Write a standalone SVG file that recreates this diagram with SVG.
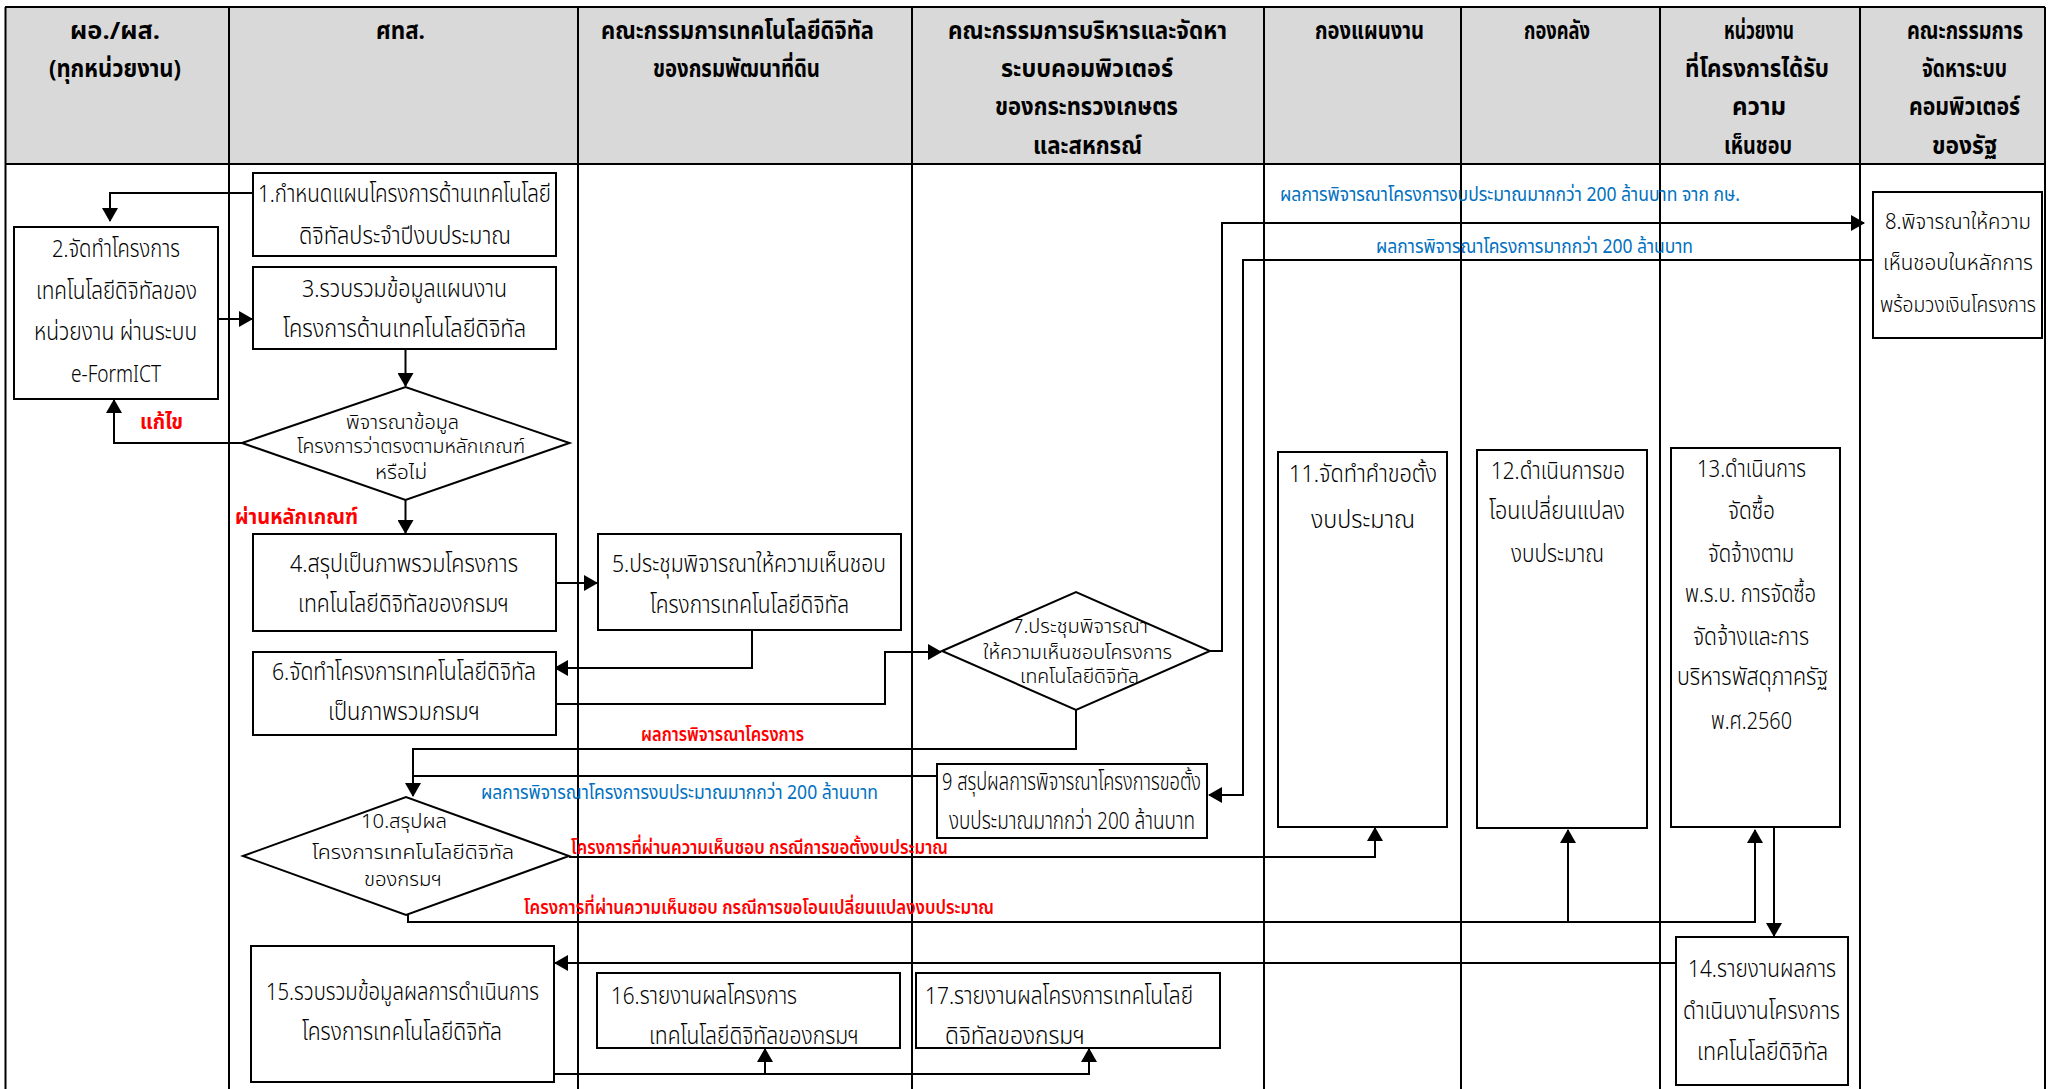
<svg xmlns="http://www.w3.org/2000/svg" width="2048" height="1089" viewBox="0 0 2048 1089">
<defs>
<marker id="ah" markerUnits="userSpaceOnUse" markerWidth="14" markerHeight="16" refX="13" refY="8" orient="auto">
<path d="M0,0 L14,8 L0,16 Z" fill="#000"/>
</marker>
</defs>
<style>
.lane{stroke:#000;stroke-width:2;fill:none}
.box{fill:#fff;stroke:#000;stroke-width:2}
.ln{stroke:#000;stroke-width:2;fill:none}
.arw{stroke:#000;stroke-width:2;fill:none;marker-end:url(#ah)}
text{font-family:"Noto Sans Thai","Noto Sans Thai Looped","Noto Sans","DejaVu Sans",sans-serif;fill:#000;font-stretch:condensed}
.h{font-size:24px;font-weight:bold}
.t{font-size:24px;font-weight:300}
.t8{font-size:22px;font-weight:300;text-anchor:middle}
.d{font-size:20px;font-weight:300}
.lb{font-size:19px;fill:#0070c0}
.lr{font-size:19px;fill:#ff0000;font-weight:600}
.lrb{font-size:21px;fill:#ff0000;font-weight:bold}
</style>
<rect x="0" y="0" width="2048" height="1089" fill="#fff"/>
<g id="lanes">
<rect x="5" y="7" width="2040" height="157" fill="#d9d9d9"/>
<line class="lane" x1="5" y1="7" x2="2045" y2="7"/>
<line class="lane" x1="5" y1="164" x2="2045" y2="164" stroke-width="3"/>
<line class="lane" x1="5.5" y1="7" x2="5.5" y2="1089"/>
<line class="lane" x1="229" y1="7" x2="229" y2="1089"/>
<line class="lane" x1="578" y1="7" x2="578" y2="1089"/>
<line class="lane" x1="912" y1="7" x2="912" y2="1089"/>
<line class="lane" x1="1264" y1="7" x2="1264" y2="1089"/>
<line class="lane" x1="1461" y1="7" x2="1461" y2="1089"/>
<line class="lane" x1="1660" y1="7" x2="1660" y2="1089"/>
<line class="lane" x1="1860" y1="7" x2="1860" y2="1089"/>
<line class="lane" x1="2045" y1="7" x2="2045" y2="1089"/>
<g class="h">
<text x="70" y="39" textLength="90" lengthAdjust="spacingAndGlyphs">ผอ./ผส.</text>
<text x="49" y="77" textLength="132" lengthAdjust="spacingAndGlyphs">(ทุกหน่วยงาน)</text>
<text x="376" y="39" textLength="49" lengthAdjust="spacingAndGlyphs">ศทส.</text>
<text x="601" y="39" textLength="273" lengthAdjust="spacingAndGlyphs">คณะกรรมการเทคโนโลยีดิจิทัล</text>
<text x="653" y="77" textLength="167" lengthAdjust="spacingAndGlyphs">ของกรมพัฒนาที่ดิน</text>
<text x="948" y="39" textLength="279" lengthAdjust="spacingAndGlyphs">คณะกรรมการบริหารและจัดหา</text>
<text x="1001" y="77" textLength="172" lengthAdjust="spacingAndGlyphs">ระบบคอมพิวเตอร์</text>
<text x="995" y="115" textLength="183" lengthAdjust="spacingAndGlyphs">ของกระทรวงเกษตร</text>
<text x="1033" y="154" textLength="109" lengthAdjust="spacingAndGlyphs">และสหกรณ์</text>
<text x="1315" y="39" textLength="109" lengthAdjust="spacingAndGlyphs">กองแผนงาน</text>
<text x="1524" y="39" textLength="66" lengthAdjust="spacingAndGlyphs">กองคลัง</text>
<text x="1724" y="39" textLength="70" lengthAdjust="spacingAndGlyphs">หน่วยงาน</text>
<text x="1685" y="77" textLength="144" lengthAdjust="spacingAndGlyphs">ที่โครงการได้รับ</text>
<text x="1732" y="115" textLength="54" lengthAdjust="spacingAndGlyphs">ความ</text>
<text x="1724" y="154" textLength="68" lengthAdjust="spacingAndGlyphs">เห็นชอบ</text>
<text x="1907" y="39" textLength="116" lengthAdjust="spacingAndGlyphs">คณะกรรมการ</text>
<text x="1922" y="77" textLength="85" lengthAdjust="spacingAndGlyphs">จัดหาระบบ</text>
<text x="1909" y="115" textLength="111" lengthAdjust="spacingAndGlyphs">คอมพิวเตอร์</text>
<text x="1932" y="154" textLength="65" lengthAdjust="spacingAndGlyphs">ของรัฐ</text>
</g>
</g>
<g id="connectors">
<path class="arw" d="M253,193 H110 V221"/>
<path class="arw" d="M218,319 H252"/>
<path class="arw" d="M405.5,349 V386"/>
<path class="arw" d="M242,443 H114 V400"/>
<path class="arw" d="M405.5,500 V533"/>
<path class="arw" d="M557,583 H597"/>
<path class="arw" d="M752,630 V668 H555"/>
<path class="arw" d="M557,704 H885 V652 H941"/>
<path class="arw" d="M1210,651 H1222 V223 H1864"/>
<path class="arw" d="M1873,260 H1243 V795 H1209"/>
<path class="arw" d="M1076,710 V749 H413 V796"/>
<path class="ln" d="M937,776 H413"/>
<path class="arw" d="M569,857 H1375 V828"/>
<path class="arw" d="M408,915 V922 H1568 V830"/>
<path class="arw" d="M1568,922 H1755 V830"/>
<path class="arw" d="M1774,827 V936"/>
<path class="arw" d="M1676,963 H555"/>
<path class="arw" d="M554,1074 H1089 V1049"/>
<path class="arw" d="M765,1074 V1049"/>
<text class="lb" x="1280" y="201" textLength="460" lengthAdjust="spacingAndGlyphs">ผลการพิจารณาโครงการงบประมาณมากกว่า 200 ล้านบาท จาก กษ.</text>
<text class="lb" x="1376" y="253" textLength="317" lengthAdjust="spacingAndGlyphs">ผลการพิจารณาโครงการมากกว่า 200 ล้านบาท</text>
<text class="lb" x="481" y="799" textLength="397" lengthAdjust="spacingAndGlyphs">ผลการพิจารณาโครงการงบประมาณมากกว่า 200 ล้านบาท</text>
<text class="lrb" x="140" y="429" textLength="43" lengthAdjust="spacingAndGlyphs">แก้ไข</text>
<text class="lrb" x="235" y="524" textLength="123" lengthAdjust="spacingAndGlyphs">ผ่านหลักเกณฑ์</text>
<text class="lr" x="641" y="741" textLength="163" lengthAdjust="spacingAndGlyphs">ผลการพิจารณาโครงการ</text>
<text class="lr" x="571" y="854" textLength="377" lengthAdjust="spacingAndGlyphs">โครงการที่ผ่านความเห็นชอบ กรณีการขอตั้งงบประมาณ</text>
<text class="lr" x="524" y="914" textLength="470" lengthAdjust="spacingAndGlyphs">โครงการที่ผ่านความเห็นชอบ กรณีการขอโอนเปลี่ยนแปลงงบประมาณ</text>
</g>
<g id="n1"><rect class="box" x="253" y="173" width="303" height="83"/>
<text class="t" x="258" y="202" textLength="293" lengthAdjust="spacingAndGlyphs">1.กำหนดแผนโครงการด้านเทคโนโลยี</text>
<text class="t" x="299" y="244" textLength="212" lengthAdjust="spacingAndGlyphs">ดิจิทัลประจำปีงบประมาณ</text></g>
<g id="n2"><rect class="box" x="14" y="227" width="204" height="172"/>
<text class="t" x="52" y="257" textLength="128" lengthAdjust="spacingAndGlyphs">2.จัดทำโครงการ</text>
<text class="t" x="36" y="299" textLength="161" lengthAdjust="spacingAndGlyphs">เทคโนโลยีดิจิทัลของ</text>
<text class="t" x="34" y="340" textLength="163" lengthAdjust="spacingAndGlyphs">หน่วยงาน ผ่านระบบ</text>
<text class="t" x="71" y="382" textLength="90" lengthAdjust="spacingAndGlyphs">e-FormICT</text></g>
<g id="n3"><rect class="box" x="253" y="267" width="303" height="82"/>
<text class="t" x="302" y="297" textLength="205" lengthAdjust="spacingAndGlyphs">3.รวบรวมข้อมูลแผนงาน</text>
<text class="t" x="283" y="337" textLength="243" lengthAdjust="spacingAndGlyphs">โครงการด้านเทคโนโลยีดิจิทัล</text></g>
<g id="d1"><polygon class="box" points="242,443 405.5,387 569.5,443 405.5,500"/>
<text class="d" x="346" y="429" textLength="113" lengthAdjust="spacingAndGlyphs">พิจารณาข้อมูล</text>
<text class="d" x="297" y="453" textLength="228" lengthAdjust="spacingAndGlyphs">โครงการว่าตรงตามหลักเกณฑ์</text>
<text class="d" x="375" y="479" textLength="52" lengthAdjust="spacingAndGlyphs">หรือไม่</text></g>
<g id="n4"><rect class="box" x="253" y="534" width="303" height="97"/>
<text class="t" x="290" y="572" textLength="228" lengthAdjust="spacingAndGlyphs">4.สรุปเป็นภาพรวมโครงการ</text>
<text class="t" x="298" y="612" textLength="211" lengthAdjust="spacingAndGlyphs">เทคโนโลยีดิจิทัลของกรมฯ</text></g>
<g id="n5"><rect class="box" x="598" y="534" width="303" height="96"/>
<text class="t" x="612" y="572" textLength="274" lengthAdjust="spacingAndGlyphs">5.ประชุมพิจารณาให้ความเห็นชอบ</text>
<text class="t" x="650" y="613" textLength="199" lengthAdjust="spacingAndGlyphs">โครงการเทคโนโลยีดิจิทัล</text></g>
<g id="n6"><rect class="box" x="253" y="652" width="303" height="83"/>
<text class="t" x="272" y="680" textLength="264" lengthAdjust="spacingAndGlyphs">6.จัดทำโครงการเทคโนโลยีดิจิทัล</text>
<text class="t" x="328" y="720" textLength="152" lengthAdjust="spacingAndGlyphs">เป็นภาพรวมกรมฯ</text></g>
<g id="d7"><polygon class="box" points="942,651 1076,592 1210,651 1076,710"/>
<text class="d" x="1012" y="633" textLength="136" lengthAdjust="spacingAndGlyphs">7.ประชุมพิจารณา</text>
<text class="d" x="983" y="659" textLength="189" lengthAdjust="spacingAndGlyphs">ให้ความเห็นชอบโครงการ</text>
<text class="d" x="1020" y="683" textLength="119" lengthAdjust="spacingAndGlyphs">เทคโนโลยีดิจิทัล</text></g>
<g id="n8"><rect class="box" x="1873" y="192" width="169" height="146"/>
<text class="t8" x="1958" y="229" textLength="146" lengthAdjust="spacingAndGlyphs">8.พิจารณาให้ความ</text>
<text class="t8" x="1958" y="270" textLength="150" lengthAdjust="spacingAndGlyphs">เห็นชอบในหลักการ</text>
<text class="t8" x="1958" y="312" textLength="156" lengthAdjust="spacingAndGlyphs">พร้อมวงเงินโครงการ</text></g>
<g id="n9"><rect class="box" x="937" y="764" width="270" height="74"/>
<text class="t" x="942" y="790" textLength="259" lengthAdjust="spacingAndGlyphs">9 สรุปผลการพิจารณาโครงการขอตั้ง</text>
<text class="t" x="949" y="829" textLength="246" lengthAdjust="spacingAndGlyphs">งบประมาณมากกว่า 200 ล้านบาท</text></g>
<g id="d10"><polygon class="box" points="243,856 406,797 569,856 406,915"/>
<text class="d" x="361" y="828" textLength="86" lengthAdjust="spacingAndGlyphs">10.สรุปผล</text>
<text class="d" x="312" y="859" textLength="202" lengthAdjust="spacingAndGlyphs">โครงการเทคโนโลยีดิจิทัล</text>
<text class="d" x="364" y="886" textLength="78" lengthAdjust="spacingAndGlyphs">ของกรมฯ</text></g>
<g id="n11"><rect class="box" x="1278" y="452" width="169" height="375"/>
<text class="t" x="1289" y="482" textLength="148" lengthAdjust="spacingAndGlyphs">11.จัดทำคำขอตั้ง</text>
<text class="t" x="1311" y="528" textLength="104" lengthAdjust="spacingAndGlyphs">งบประมาณ</text></g>
<g id="n12"><rect class="box" x="1477" y="450" width="170" height="378"/>
<text class="t" x="1491" y="479" textLength="134" lengthAdjust="spacingAndGlyphs">12.ดำเนินการขอ</text>
<text class="t" x="1489" y="519" textLength="136" lengthAdjust="spacingAndGlyphs">โอนเปลี่ยนแปลง</text>
<text class="t" x="1511" y="562" textLength="93" lengthAdjust="spacingAndGlyphs">งบประมาณ</text></g>
<g id="n13"><rect class="box" x="1671" y="448" width="169" height="379"/>
<text class="t" x="1697" y="477" textLength="109" lengthAdjust="spacingAndGlyphs">13.ดำเนินการ</text>
<text class="t" x="1728" y="519" textLength="47" lengthAdjust="spacingAndGlyphs">จัดซื้อ</text>
<text class="t" x="1708" y="562" textLength="86" lengthAdjust="spacingAndGlyphs">จัดจ้างตาม</text>
<text class="t" x="1685" y="602" textLength="131" lengthAdjust="spacingAndGlyphs">พ.ร.บ. การจัดซื้อ</text>
<text class="t" x="1693" y="645" textLength="116" lengthAdjust="spacingAndGlyphs">จัดจ้างและการ</text>
<text class="t" x="1677" y="685" textLength="151" lengthAdjust="spacingAndGlyphs">บริหารพัสดุภาครัฐ</text>
<text class="t" x="1711" y="729" textLength="81" lengthAdjust="spacingAndGlyphs">พ.ศ.2560</text></g>
<g id="n14"><rect class="box" x="1676" y="937" width="172" height="148"/>
<text class="t" x="1688" y="977" textLength="148" lengthAdjust="spacingAndGlyphs">14.รายงานผลการ</text>
<text class="t" x="1683" y="1019" textLength="157" lengthAdjust="spacingAndGlyphs">ดำเนินงานโครงการ</text>
<text class="t" x="1697" y="1060" textLength="131" lengthAdjust="spacingAndGlyphs">เทคโนโลยีดิจิทัล</text></g>
<g id="n15"><rect class="box" x="251" y="946" width="303" height="136"/>
<text class="t" x="266" y="1000" textLength="273" lengthAdjust="spacingAndGlyphs">15.รวบรวมข้อมูลผลการดำเนินการ</text>
<text class="t" x="302" y="1040" textLength="200" lengthAdjust="spacingAndGlyphs">โครงการเทคโนโลยีดิจิทัล</text></g>
<g id="n16"><rect class="box" x="597" y="973" width="303" height="75"/>
<text class="t" x="611" y="1004" textLength="186" lengthAdjust="spacingAndGlyphs">16.รายงานผลโครงการ</text>
<text class="t" x="649" y="1044" textLength="210" lengthAdjust="spacingAndGlyphs">เทคโนโลยีดิจิทัลของกรมฯ</text></g>
<g id="n17"><rect class="box" x="916" y="973" width="304" height="75"/>
<text class="t" x="925" y="1004" textLength="268" lengthAdjust="spacingAndGlyphs">17.รายงานผลโครงการเทคโนโลยี</text>
<text class="t" x="945" y="1044" textLength="140" lengthAdjust="spacingAndGlyphs">ดิจิทัลของกรมฯ</text></g>
</svg>
